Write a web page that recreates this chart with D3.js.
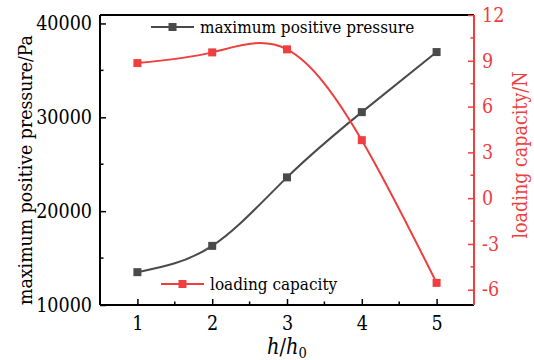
<!DOCTYPE html>
<html>
<head>
<meta charset="utf-8">
<script src="https://cdn.jsdelivr.net/npm/d3@7"></script>
<style>
  body { margin: 0; background: #fff; }
</style>
</head>
<body>
<svg id="chart" width="534" height="360"></svg>
<script>
const ratios = [1, 2, 3, 4, 5];
const maxPressure = [13500, 16300, 23600, 30550, 36950];
const loadingCapacity = [8.85, 9.55, 9.75, 3.8, -5.55];
const pressureTicks = [10000, 20000, 30000, 40000];
const capacityTicks = [-6, -3, 0, 3, 6, 9, 12];

const grey = "#4a4a4a";
const red = "#ee3e3e";
const serif = "'DejaVu Serif Condensed', 'DejaVu Serif', serif";

const svg = d3.select("#chart").attr("font-family", serif);
const m = { left: 100, right: 474, top: 15, bottom: 305 };

const x = d3.scaleLinear().domain([0.5, 5.5]).range([m.left, m.right]);
const yL = d3.scaleLinear().domain([10000, 40900]).range([m.bottom, m.top]);
const yR = d3.scaleLinear().domain([-7, 12]).range([m.bottom, m.top]);

// frame: top edge
svg.append("line").attr("x1", m.left).attr("x2", m.right)
  .attr("y1", m.top).attr("y2", m.top).attr("stroke", "#000").attr("stroke-width", 2);

// bottom axis
const xAxis = svg.append("g").attr("transform", `translate(0,${m.bottom})`);
xAxis.call(d3.axisBottom(x).tickValues(ratios).tickSize(-6).tickPadding(11).tickFormat(d3.format("d")));
xAxis.select(".domain").attr("stroke-width", 2).attr("d", `M${m.left},0H${m.right}`);
xAxis.selectAll(".tick line").attr("stroke-width", 1.5);
xAxis.selectAll("line.mn").data(d3.range(1.5, 5.5, 1)).enter().append("line")
  .attr("x1", d => x(d)).attr("x2", d => x(d)).attr("y1", 0).attr("y2", -3.5)
  .attr("stroke", "#000").attr("stroke-width", 1.5);

// left axis
const lAxis = svg.append("g").attr("transform", `translate(${m.left},0)`);
lAxis.call(d3.axisLeft(yL).tickValues(pressureTicks).tickSize(-6).tickPadding(8).tickFormat(d3.format("d")));
lAxis.select(".domain").attr("stroke-width", 2).attr("d", `M0,${m.bottom}V${m.top}`);
lAxis.selectAll(".tick line").attr("stroke-width", 1.5);
lAxis.selectAll("line.mn").data([15000, 25000, 35000]).enter().append("line")
  .attr("y1", d => yL(d)).attr("y2", d => yL(d)).attr("x1", 0).attr("x2", 3.5)
  .attr("stroke", "#000").attr("stroke-width", 1.5);

// right axis
const rAxis = svg.append("g").attr("transform", `translate(${m.right},0)`);
rAxis.call(d3.axisRight(yR).tickValues(capacityTicks).tickSize(-6).tickPadding(8).tickFormat(d => String(d)));
rAxis.select(".domain").attr("stroke", red).attr("stroke-width", 2).attr("d", `M0,${m.bottom}V${m.top}`);
rAxis.selectAll(".tick line").attr("stroke", red).attr("stroke-width", 1.5);
rAxis.selectAll("line.mn").data([-4.5, -1.5, 1.5, 4.5, 7.5, 10.5]).enter().append("line")
  .attr("y1", d => yR(d)).attr("y2", d => yR(d)).attr("x1", 0).attr("x2", -3.5)
  .attr("stroke", red).attr("stroke-width", 1.5);

[xAxis, lAxis, rAxis].forEach(g => g.attr("font-family", serif).attr("font-size", 19.5));
xAxis.selectAll(".tick text").attr("fill", "#000");
lAxis.selectAll(".tick text").attr("fill", "#000");
rAxis.selectAll(".tick text").attr("fill", red);

// series
const lineL = d3.line().x((d, i) => x(ratios[i])).y(d => yL(d)).curve(d3.curveNatural);
const lineR = d3.line().x((d, i) => x(ratios[i])).y(d => yR(d)).curve(d3.curveNatural);

svg.append("path").attr("d", lineL(maxPressure)).attr("fill", "none")
  .attr("stroke", grey).attr("stroke-width", 2);
svg.selectAll("rect.p").data(maxPressure).enter().append("rect")
  .attr("x", (d, i) => x(ratios[i]) - 4).attr("y", d => yL(d) - 4)
  .attr("width", 8).attr("height", 8).attr("fill", grey);

svg.append("path").attr("d", lineR(loadingCapacity)).attr("fill", "none")
  .attr("stroke", red).attr("stroke-width", 2);
svg.selectAll("rect.c").data(loadingCapacity).enter().append("rect")
  .attr("x", (d, i) => x(ratios[i]) - 4).attr("y", d => yR(d) - 4)
  .attr("width", 8).attr("height", 8).attr("fill", red);

// legends
function legendItem(lx, ly, color, label) {
  svg.append("line").attr("x1", lx).attr("x2", lx + 43).attr("y1", ly).attr("y2", ly)
    .attr("stroke", color).attr("stroke-width", 2);
  svg.append("rect").attr("x", lx + 17.5).attr("y", ly - 4).attr("width", 8).attr("height", 8).attr("fill", color);
  svg.append("text").attr("x", lx + 49).attr("y", ly + 6).attr("font-size", 17)
    .attr("fill", "#000").text(label);
}
legendItem(151, 27, grey, "maximum positive pressure");
legendItem(161, 284, red, "loading capacity");

// axis titles
svg.append("text").attr("transform", "translate(32,170) rotate(-90)")
  .attr("text-anchor", "middle").attr("font-size", 19.3).attr("fill", "#000")
  .text("maximum positive pressure/Pa");
svg.append("text").attr("transform", "translate(527,155) rotate(-90)")
  .attr("text-anchor", "middle").attr("font-size", 19.5).attr("fill", red)
  .text("loading capacity/N");

const xt = svg.append("text").attr("x", 287).attr("y", 354).attr("text-anchor", "middle")
  .attr("font-size", 21.5).attr("fill", "#000");
xt.append("tspan").attr("font-style", "italic").text("h");
xt.append("tspan").text("/");
xt.append("tspan").attr("font-style", "italic").text("h");
xt.append("tspan").attr("font-size", 14.5).attr("dy", 4).text("0");
</script>
</body>
</html>
